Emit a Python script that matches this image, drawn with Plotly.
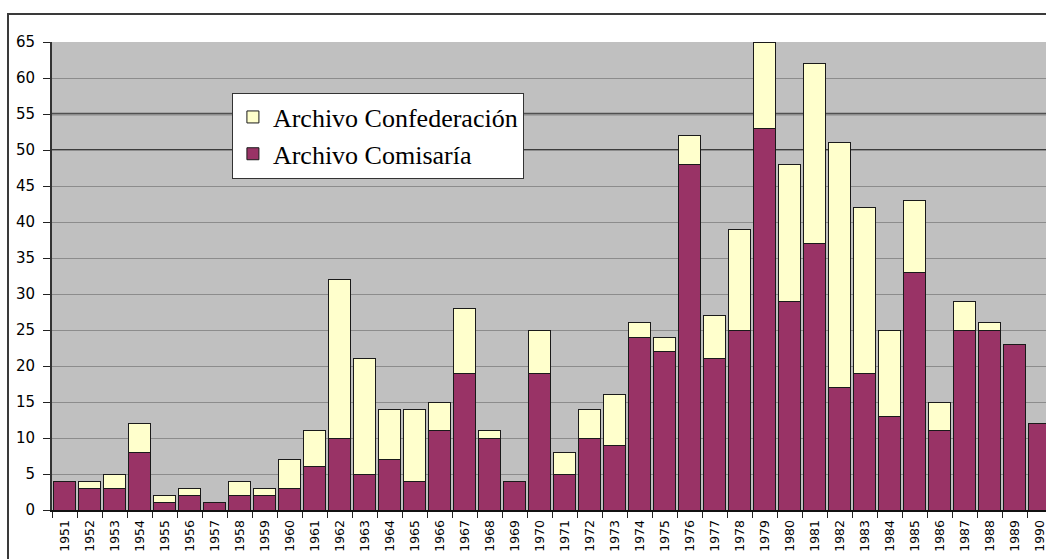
import plotly.graph_objects as go

years = [str(y) for y in range(1951, 1991)]
comisaria = [4, 3, 3, 8, 1, 2, 1, 2, 2, 3, 6, 10, 5, 7, 4, 11, 19, 10, 4, 19,
             5, 10, 9, 24, 22, 48, 21, 25, 53, 29, 37, 17, 19, 13, 33, 11, 25, 25, 23, 12]
confederacion = [0, 1, 2, 4, 1, 1, 0, 2, 1, 4, 5, 22, 16, 7, 10, 4, 9, 1, 0, 6,
                 3, 4, 7, 2, 2, 4, 6, 14, 12, 19, 25, 34, 23, 12, 10, 4, 4, 1, 0, 0]
y_ticks = list(range(0, 70, 5))

MAROON = "#993366"
CREAM = "#FFFFCC"

fig = go.Figure()
fig.add_trace(go.Bar(x=years, y=comisaria, name="Archivo Comisaría",
                     marker=dict(color=MAROON, line=dict(color="#1a1a1a", width=1))))
fig.add_trace(go.Bar(x=years, y=confederacion, name="Archivo Confederación",
                     marker=dict(color=CREAM, line=dict(color="#1a1a1a", width=1))))

fig.update_layout(
    width=1046, height=559,
    margin=dict(l=52, r=0, t=42, b=49, autoexpand=False),
    barmode="stack", bargap=0.09,
    paper_bgcolor="white", plot_bgcolor="#C0C0C0",
    showlegend=True,
    legend=dict(x=0.181, y=0.892, xanchor="left", yanchor="top",
                bgcolor="white", bordercolor="#333333", borderwidth=1,
                traceorder="reversed",
                font=dict(family="Liberation Serif", size=26, color="black")),
    xaxis=dict(type="category", range=[-0.5, 39.26], tickson="boundaries",
               ticks="outside", ticklen=6, tickcolor="#222", tickwidth=1,
               showline=True, linecolor="#111", linewidth=2,
               tickangle=-90, showgrid=False, automargin=False,
               ticklabelstandoff=3,
               tickfont=dict(family="DejaVu Sans", size=12.5, color="black")),
    yaxis=dict(range=[0, 65], tickvals=y_ticks, ticks="outside", ticklen=7,
               tickcolor="#222", tickwidth=1,
               showline=True, linecolor="#333", linewidth=2,
               showgrid=True, gridcolor="#8c8c8c", gridwidth=1, zeroline=False,
               automargin=False, ticklabelstandoff=5,
               tickfont=dict(family="DejaVu Sans", size=15, color="black")),
    shapes=[
        dict(type="line", xref="x domain", yref="y", x0=0, x1=1, y0=55, y1=55,
             line=dict(color="#505050", width=2.5), layer="below"),
        dict(type="line", xref="x domain", yref="y", x0=0, x1=1, y0=50, y1=50,
             line=dict(color="#111111", width=1.5), layer="below"),
        dict(type="rect", xref="paper", yref="paper",
             x0=(8 - 52) / 994, x1=1.05, y0=-0.3, y1=1.0598,
             line=dict(color="#3a3a3a", width=2), fillcolor="rgba(0,0,0,0)",
             layer="above"),
    ],
)

fig.write_html(
    "out.html",
    config={"displayModeBar": False},
    post_script="document.body.style.margin='0';document.body.style.overflow='hidden';",
)
